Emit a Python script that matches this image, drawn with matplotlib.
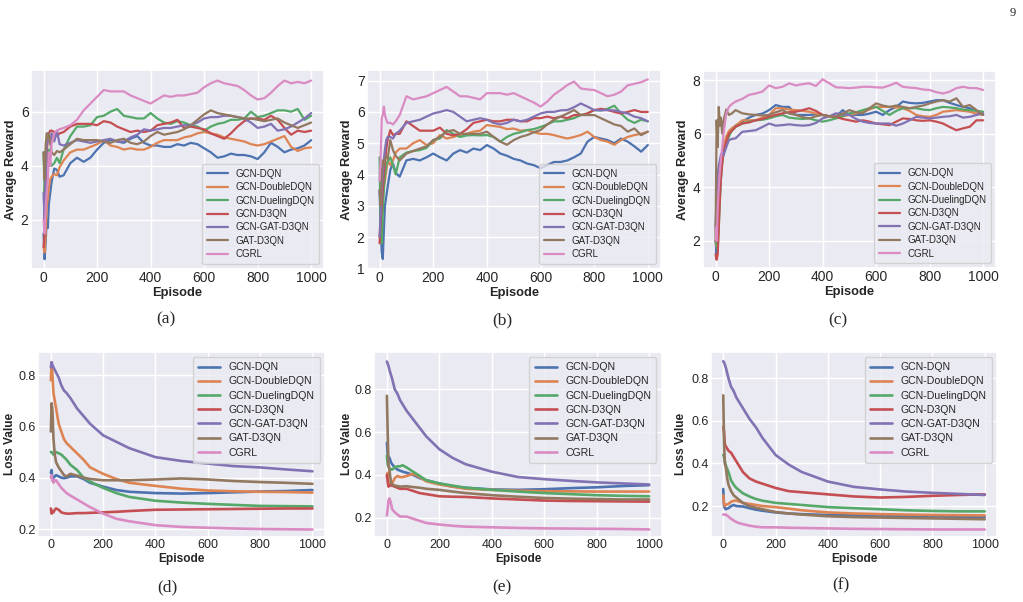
import matplotlib
matplotlib.use("Agg")
import matplotlib.pyplot as plt
import seaborn as sns

ep_r = [0, 4, 8, 12, 16, 20, 25, 30, 40, 50, 60, 75,
        100, 125, 150, 175, 200, 225, 250, 275, 300, 325, 350, 375, 400,
        425, 450, 475, 500, 525, 550, 575, 600, 625, 650, 675, 700, 725,
        750, 775, 800, 825, 850, 875, 900, 925, 950, 975, 1000]
ep_l = [0, 3, 6, 10, 15, 20, 30, 40, 50, 60, 75, 100, 125, 150, 200, 250,
        300, 400, 500, 600, 700, 800, 900, 1000]

methods = ["GCN-DQN", "GCN-DoubleDQN", "GCN-DuelingDQN", "GCN-D3QN",
           "GCN-GAT-D3QN", "GAT-D3QN", "CGRL"]

# ---- (a) average reward ----
a_dqn = [1.5, 0.55, 1.2, 2.0, 1.7, 2.6, 3.0, 3.4, 3.9, 3.85, 3.6, 3.65,
         4.1, 4.3, 4.15, 4.3, 4.6, 4.85, 4.95, 4.9, 4.85, 5.0, 5.1, 4.85, 4.75,
         4.75, 4.7, 4.7, 4.8, 4.75, 4.85, 4.8, 4.65, 4.5, 4.3, 4.35, 4.45, 4.4,
         4.4, 4.35, 4.25, 4.5, 4.85, 4.7, 4.5, 4.6, 4.65, 4.75, 4.95]
a_double = [1.0, 0.8, 1.5, 2.5, 2.8, 3.2, 3.5, 3.6, 3.7, 3.65, 3.95, 4.2,
            4.5, 4.6, 4.6, 4.7, 4.8, 4.95, 4.75, 4.7, 4.6, 4.65, 4.6, 4.6, 4.7,
            4.85, 4.95, 4.95, 4.95, 5.05, 5.1, 5.2, 5.25, 5.2, 5.15, 5.05, 5.0, 4.95,
            4.9, 4.8, 4.75, 4.8, 4.9, 5.0, 5.1, 4.7, 4.55, 4.65, 4.68]
a_dueling = [4.5, 3.0, 3.8, 4.5, 4.2, 4.6, 4.1, 4.0, 4.1, 4.3, 4.1, 4.6,
             5.1, 5.45, 5.45, 5.5, 5.8, 5.85, 6.0, 6.1, 5.85, 5.8, 5.75, 5.75, 5.95,
             5.75, 5.6, 5.55, 5.65, 5.6, 5.5, 5.45, 5.3, 5.45, 5.55, 5.6, 5.7, 5.7,
             5.75, 6.0, 5.8, 5.85, 5.95, 6.05, 6.05, 6.0, 6.1, 5.7, 5.85]
a_d3qn = [1.0, 1.5, 3.5, 4.5, 5.0, 5.2, 5.3, 5.3, 5.25, 5.1, 5.2, 5.25,
          5.45, 5.55, 5.55, 5.55, 5.5, 5.65, 5.6, 5.45, 5.35, 5.25, 5.3, 5.25, 5.3,
          5.5, 5.55, 5.6, 5.7, 5.4, 5.45, 5.4, 5.35, 5.2, 5.1, 5.0, 5.2, 5.45,
          5.65, 5.75, 5.75, 5.7, 5.85, 5.7, 5.4, 5.15, 5.3, 5.25, 5.3]
a_gcngat = [3.0, 2.0, 3.5, 4.8, 5.2, 5.0, 4.8, 5.2, 4.9, 5.3, 4.8, 4.75,
            4.85, 4.95, 4.9, 4.85, 4.9, 4.95, 5.0, 4.9, 4.9, 5.05, 5.15, 5.35, 5.3,
            5.35, 5.4, 5.4, 5.45, 5.5, 5.5, 5.6, 5.75, 5.8, 5.8, 5.85, 5.85, 5.8,
            5.75, 5.6, 5.4, 5.45, 5.55, 5.3, 5.35, 5.45, 5.6, 5.75, 5.95]
a_gat = [4.5, 3.5, 4.8, 5.2, 5.0, 5.2, 4.9, 4.5, 4.4, 4.55, 4.5, 4.6,
         4.8, 5.0, 4.95, 4.95, 4.95, 4.9, 4.85, 4.95, 5.0, 4.85, 4.8, 4.9, 5.1,
         5.25, 5.15, 5.2, 5.25, 5.35, 5.5, 5.7, 5.9, 6.05, 5.95, 5.9, 5.85, 5.8,
         5.75, 5.75, 5.7, 5.65, 5.7, 5.75, 5.6, 5.5, 5.4, 5.5, 5.6]
a_cgrl = [2.0, 1.5, 2.5, 3.0, 3.5, 4.5, 4.0, 4.8, 5.2, 5.3, 5.35, 5.4,
          5.5, 5.7, 6.05, 6.3, 6.55, 6.8, 6.75, 6.75, 6.75, 6.6, 6.5, 6.4, 6.3,
          6.45, 6.6, 6.55, 6.6, 6.6, 6.65, 6.7, 6.9, 7.05, 7.15, 7.05, 7.0, 6.95,
          6.8, 6.6, 6.45, 6.5, 6.7, 6.95, 7.15, 7.05, 7.1, 7.05, 7.15]

# ---- (b) average reward ----
b_dqn = [3.5, 2.3, 1.5, 1.3, 2.2, 3.0, 3.3, 3.6, 4.15, 4.35, 4.05, 3.93,
         4.45, 4.5, 4.45, 4.55, 4.67, 4.55, 4.45, 4.67, 4.78, 4.7, 4.83, 4.78, 4.94,
         4.83, 4.67, 4.6, 4.5, 4.45, 4.35, 4.3, 4.2, 4.3, 4.4, 4.4, 4.45, 4.55,
         4.67, 5.05, 5.2, 5.15, 5.1, 5.0, 5.15, 5.05, 4.9, 4.73, 4.94]
b_double = [2.0, 2.5, 3.0, 3.3, 3.6, 3.8, 4.1, 4.45, 4.3, 4.45, 4.7, 4.83,
            4.83, 5.0, 5.1, 4.94, 5.0, 5.26, 5.15, 5.2, 5.26, 5.3, 5.37, 5.4, 5.58,
            5.55, 5.52, 5.45, 5.47, 5.4, 5.42, 5.35, 5.3, 5.3, 5.26, 5.2, 5.15, 5.2,
            5.26, 5.37, 5.2, 5.1, 5.05, 4.95, 5.1, 5.2, 5.26, 5.3, 5.37]
b_dueling = [4.55, 2.0, 1.8, 2.8, 3.5, 4.0, 4.3, 4.4, 4.55, 4.3, 4.0, 4.55,
             4.7, 4.75, 4.78, 4.85, 5.1, 5.15, 5.42, 5.3, 5.2, 5.25, 5.26, 5.25, 5.26,
             5.2, 5.05, 5.2, 5.3, 5.35, 5.42, 5.45, 5.52, 5.6, 5.7, 5.7, 5.75, 5.8,
             5.9, 5.95, 6.06, 6.05, 6.1, 6.2, 5.95, 5.75, 5.65, 5.75, 5.7]
b_d3qn = [1.8, 2.5, 3.0, 3.5, 4.0, 4.4, 4.8, 5.1, 5.42, 5.26, 5.3, 5.3,
          5.7, 5.55, 5.4, 5.4, 5.4, 5.5, 5.3, 5.25, 5.3, 5.45, 5.65, 5.7, 5.75,
          5.7, 5.7, 5.75, 5.75, 5.7, 5.7, 5.8, 5.8, 5.85, 5.8, 5.85, 5.8, 5.9,
          5.9, 5.95, 6.06, 6.1, 6.06, 6.0, 5.95, 6.0, 6.06, 6.0, 6.0]
b_gcngat = [2.0, 2.8, 3.5, 4.0, 4.5, 4.8, 5.1, 5.2, 5.2, 5.15, 5.3, 5.4,
            5.65, 5.7, 5.75, 5.85, 5.95, 6.0, 6.06, 6.0, 5.85, 5.7, 5.75, 5.8, 5.75,
            5.65, 5.6, 5.65, 5.75, 5.7, 5.75, 5.85, 5.95, 6.0, 6.0, 6.05, 6.06, 6.15,
            6.27, 6.17, 6.06, 6.05, 6.06, 6.05, 6.0, 5.95, 5.85, 5.8, 5.7]
b_gat = [3.5, 3.0, 4.0, 4.45, 4.3, 4.5, 4.6, 4.5, 5.1, 4.78, 4.6, 4.45,
         4.67, 4.75, 4.83, 4.9, 5.1, 5.2, 5.37, 5.42, 5.3, 5.3, 5.3, 5.3, 5.37,
         5.2, 5.05, 4.95, 5.1, 5.2, 5.26, 5.35, 5.42, 5.6, 5.75, 5.85, 5.95, 6.06,
         5.9, 5.9, 5.9, 5.8, 5.7, 5.6, 5.55, 5.37, 5.47, 5.26, 5.37]
b_cgrl = [3.8, 4.5, 5.8, 5.9, 6.17, 5.9, 5.75, 5.65, 5.65, 5.6, 5.7, 5.9,
          6.5, 6.4, 6.45, 6.5, 6.6, 6.7, 6.8, 6.65, 6.5, 6.5, 6.45, 6.4, 6.6,
          6.6, 6.6, 6.55, 6.6, 6.5, 6.4, 6.3, 6.17, 6.33, 6.55, 6.7, 6.86, 6.97,
          6.75, 6.72, 6.7, 6.6, 6.5, 6.55, 6.65, 6.85, 6.9, 6.95, 7.04]

# ---- (c) average reward ----
c_dqn = [2.0, 1.5, 2.2, 3.5, 4.3, 4.8, 5.1, 5.4, 5.8, 6.0, 6.15, 6.3,
         6.45, 6.6, 6.7, 6.75, 6.88, 7.07, 7.0, 7.0, 6.7, 6.7, 6.7, 6.72, 6.7,
         6.65, 6.63, 6.88, 6.7, 6.7, 6.7, 6.75, 6.82, 6.7, 6.88, 7.0, 7.2, 7.15,
         7.13, 7.15, 7.2, 7.25, 7.25, 7.15, 7.07, 7.0, 6.95, 6.85, 6.7]
c_double = [2.0, 1.8, 2.5, 3.8, 4.5, 5.0, 5.3, 5.5, 5.9, 6.1, 6.2, 6.3,
            6.5, 6.5, 6.5, 6.6, 6.7, 6.95, 6.95, 6.9, 6.88, 6.85, 6.82, 6.75, 6.7,
            6.65, 6.63, 6.65, 6.7, 6.75, 6.82, 6.9, 7.0, 7.0, 7.0, 6.98, 6.95, 6.85,
            6.7, 6.65, 6.63, 6.7, 6.82, 6.85, 6.88, 6.85, 6.82, 6.75, 6.7]
c_dueling = [2.5, 1.8, 1.7, 2.5, 3.5, 4.3, 4.9, 5.3, 5.6, 5.9, 6.1, 6.26,
             6.38, 6.45, 6.5, 6.52, 6.57, 6.65, 6.7, 6.6, 6.57, 6.55, 6.57, 6.5, 6.45,
             6.5, 6.57, 6.65, 6.76, 6.8, 6.88, 6.95, 7.0, 6.85, 6.7, 6.85, 6.95, 6.95,
             6.95, 6.9, 6.88, 6.95, 7.0, 6.98, 6.95, 6.9, 6.88, 6.85, 6.82]
c_d3qn = [1.5, 1.3, 1.5, 2.5, 3.5, 4.3, 4.9, 5.3, 5.7, 6.0, 6.1, 6.26,
          6.38, 6.42, 6.5, 6.55, 6.63, 6.7, 6.76, 6.8, 6.82, 6.88, 6.95, 6.85, 6.7,
          6.65, 6.63, 6.55, 6.5, 6.45, 6.5, 6.45, 6.38, 6.35, 6.32, 6.45, 6.57, 6.55,
          6.5, 6.48, 6.5, 6.45, 6.38, 6.25, 6.13, 6.2, 6.26, 6.5, 6.5]
c_gcngat = [2.5, 3.5, 4.5, 4.8, 5.0, 5.2, 5.3, 5.2, 5.5, 5.76, 5.8, 5.83,
            6.07, 6.1, 6.13, 6.25, 6.38, 6.3, 6.32, 6.35, 6.32, 6.3, 6.32, 6.4, 6.57,
            6.65, 6.76, 6.72, 6.7, 6.55, 6.45, 6.4, 6.38, 6.38, 6.38, 6.3, 6.38, 6.5,
            6.63, 6.6, 6.57, 6.6, 6.63, 6.65, 6.7, 6.6, 6.63, 6.7, 6.76]
c_gat = [2.0, 6.5, 5.5, 7.0, 6.3, 6.6, 6.0, 6.5, 6.9, 6.7, 6.75, 6.88,
         6.76, 6.72, 6.7, 6.68, 6.7, 6.8, 6.88, 6.75, 6.7, 6.62, 6.57, 6.65, 6.7,
         6.65, 6.63, 6.75, 6.88, 6.8, 6.76, 6.95, 7.13, 7.05, 7.0, 7.05, 7.0, 6.95,
         7.0, 7.05, 7.13, 7.2, 7.25, 7.2, 7.32, 7.0, 7.07, 6.88, 6.7]
c_cgrl = [2.5, 2.0, 3.2, 4.0, 4.6, 5.0, 5.5, 6.0, 6.76, 7.0, 7.1, 7.2,
          7.3, 7.45, 7.5, 7.57, 7.8, 7.7, 7.75, 7.88, 7.8, 7.85, 7.88, 7.78, 8.03,
          7.88, 7.73, 7.72, 7.7, 7.72, 7.75, 7.75, 7.73, 7.72, 7.8, 7.9, 7.75, 7.72,
          7.7, 7.65, 7.63, 7.55, 7.5, 7.57, 7.7, 7.75, 7.7, 7.7, 7.63]

# ---- (d) loss ----
d_dqn = [0.42, 0.43, 0.39, 0.40, 0.405, 0.41, 0.405, 0.40, 0.398, 0.40, 0.405, 0.405,
         0.395, 0.38, 0.365, 0.352, 0.345, 0.34, 0.338, 0.34, 0.343, 0.346, 0.348, 0.352]
d_double = [0.78, 0.85, 0.80, 0.73, 0.70, 0.67, 0.61, 0.58, 0.55, 0.535, 0.52, 0.495,
            0.47, 0.44, 0.415, 0.395, 0.38, 0.368, 0.357, 0.35, 0.347, 0.345, 0.344, 0.342]
d_dueling = [0.50, 0.50, 0.495, 0.49, 0.495, 0.50, 0.495, 0.49, 0.48, 0.47, 0.45, 0.43,
             0.40, 0.385, 0.36, 0.34, 0.325, 0.31, 0.303, 0.298, 0.294, 0.29, 0.289, 0.288]
d_d3qn = [0.28, 0.26, 0.27, 0.265, 0.275, 0.28, 0.275, 0.265, 0.262, 0.26, 0.26, 0.262,
          0.262, 0.263, 0.265, 0.267, 0.27, 0.275, 0.276, 0.277, 0.278, 0.279, 0.28, 0.28]
d_gcngat = [0.83, 0.85, 0.84, 0.83, 0.82, 0.81, 0.79, 0.76, 0.74, 0.73, 0.71, 0.67,
            0.64, 0.61, 0.565, 0.54, 0.515, 0.48, 0.465, 0.455, 0.445, 0.44, 0.432, 0.425]
d_gat = [0.58, 0.69, 0.66, 0.55, 0.49, 0.46, 0.44, 0.425, 0.41, 0.405, 0.415, 0.408,
         0.40, 0.395, 0.39, 0.39, 0.39, 0.393, 0.397, 0.393, 0.387, 0.383, 0.38, 0.376]
d_cgrl = [0.40, 0.41, 0.39, 0.38, 0.39, 0.39, 0.375, 0.36, 0.35, 0.34, 0.33, 0.315,
          0.30, 0.285, 0.26, 0.24, 0.23, 0.215, 0.208, 0.205, 0.202, 0.20, 0.199, 0.198]

# ---- (e) loss ----
e_dqn = [0.55, 0.50, 0.47, 0.48, 0.46, 0.45, 0.435, 0.425, 0.42, 0.415, 0.41, 0.40,
         0.385, 0.375, 0.36, 0.345, 0.34, 0.332, 0.33, 0.333, 0.338, 0.342, 0.348, 0.352]
e_double = [0.39, 0.41, 0.35, 0.355, 0.36, 0.36, 0.385, 0.395, 0.39, 0.39, 0.395, 0.405,
            0.39, 0.37, 0.355, 0.345, 0.335, 0.33, 0.326, 0.324, 0.323, 0.322, 0.322, 0.322]
e_dueling = [0.49, 0.45, 0.44, 0.43, 0.425, 0.425, 0.435, 0.44, 0.44, 0.445, 0.435, 0.415,
             0.395, 0.375, 0.36, 0.35, 0.34, 0.33, 0.322, 0.315, 0.31, 0.305, 0.302, 0.30]
e_d3qn = [0.40, 0.37, 0.345, 0.35, 0.35, 0.35, 0.345, 0.34, 0.335, 0.335, 0.335, 0.325,
          0.315, 0.31, 0.30, 0.298, 0.297, 0.29, 0.285, 0.28, 0.278, 0.277, 0.276, 0.275]
e_gcngat = [0.93, 0.92, 0.91, 0.89, 0.87, 0.85, 0.80, 0.78, 0.75, 0.73, 0.70, 0.66,
            0.62, 0.58, 0.52, 0.48, 0.45, 0.415, 0.39, 0.38, 0.372, 0.365, 0.36, 0.355]
e_gat = [0.77, 0.60, 0.45, 0.42, 0.37, 0.355, 0.35, 0.348, 0.345, 0.346, 0.347, 0.343,
         0.34, 0.335, 0.33, 0.322, 0.315, 0.305, 0.298, 0.292, 0.289, 0.287, 0.285, 0.285]
e_cgrl = [0.21, 0.24, 0.28, 0.29, 0.27, 0.24, 0.225, 0.215, 0.205, 0.205, 0.205, 0.195,
          0.185, 0.175, 0.168, 0.162, 0.158, 0.155, 0.152, 0.15, 0.149, 0.148, 0.147, 0.145]

# ---- (f) loss ----
f_dqn = [0.28, 0.20, 0.19, 0.185, 0.188, 0.19, 0.20, 0.205, 0.20, 0.199, 0.198, 0.19,
         0.183, 0.178, 0.17, 0.165, 0.162, 0.158, 0.156, 0.154, 0.153, 0.151, 0.15, 0.15]
f_double = [0.25, 0.21, 0.20, 0.205, 0.208, 0.21, 0.22, 0.225, 0.225, 0.222, 0.215, 0.21,
            0.205, 0.20, 0.195, 0.188, 0.18, 0.17, 0.165, 0.162, 0.16, 0.158, 0.157, 0.156]
f_dueling = [0.44, 0.43, 0.41, 0.39, 0.375, 0.36, 0.32, 0.30, 0.285, 0.275, 0.26, 0.245,
             0.233, 0.225, 0.215, 0.21, 0.205, 0.195, 0.19, 0.185, 0.18, 0.177, 0.175, 0.175]
f_d3qn = [0.57, 0.55, 0.49, 0.48, 0.47, 0.46, 0.45, 0.43, 0.41, 0.39, 0.36, 0.33,
          0.315, 0.305, 0.285, 0.27, 0.265, 0.255, 0.245, 0.24, 0.243, 0.248, 0.252, 0.255]
f_gcngat = [0.88, 0.875, 0.865, 0.85, 0.825, 0.80, 0.76, 0.74, 0.71, 0.69, 0.66, 0.61,
            0.57, 0.52, 0.44, 0.395, 0.36, 0.315, 0.29, 0.278, 0.268, 0.262, 0.257, 0.252]
f_gat = [0.72, 0.50, 0.40, 0.38, 0.33, 0.30, 0.27, 0.25, 0.24, 0.23, 0.215, 0.20,
         0.192, 0.185, 0.172, 0.165, 0.16, 0.152, 0.148, 0.146, 0.144, 0.142, 0.14, 0.138]
f_cgrl = [0.16, 0.16, 0.16, 0.16, 0.155, 0.15, 0.14, 0.132, 0.125, 0.12, 0.115, 0.108,
          0.103, 0.10, 0.10, 0.098, 0.097, 0.095, 0.093, 0.092, 0.091, 0.09, 0.09, 0.09]


sns.set_theme(style="darkgrid")
plt.rcParams["font.family"] = ["Liberation Sans", "DejaVu Sans"]
colors = sns.color_palette("deep")[:7]

W, H = 1023, 602
fig = plt.figure(figsize=(W / 100, H / 100), dpi=100, facecolor="white")

top_fs = dict(tick=10.0, label=9.3, legend=7.0, spacing=0.35)
bot_fs = dict(tick=9.0, label=8.6, legend=7.6, spacing=0.4)


def panel(box, xs, series, ylim, yticks, ylabel, loc, lw, fs, lab_xy, tag, tagpos):
    # box = left, right, top, bottom in pixels of the page
    l, r, t, b = box
    ax = fig.add_axes([l / W, 1 - b / H, (r - l) / W, (b - t) / H])
    for s, c, name in zip(series, colors, methods):
        ax.plot(xs, s, color=c, lw=lw, label=name)
    ax.set_xlim(-48, 1048)
    ax.set_ylim(*ylim)
    ax.set_xticks([0, 200, 400, 600, 800, 1000])
    ax.set_yticks(yticks)
    ax.tick_params(labelsize=fs["tick"], pad=1.5, length=0)
    ax.set_xlabel("Episode", fontsize=fs["label"], fontweight="bold")
    ax.set_ylabel(ylabel, fontsize=fs["label"], fontweight="bold")
    ax.yaxis.set_label_coords(lab_xy[0], 0.5)
    ax.xaxis.set_label_coords(0.5, lab_xy[1])
    ax.legend(loc=loc, fontsize=fs["legend"], labelspacing=fs["spacing"],
              handlelength=2.1, borderpad=0.5)
    fig.text(tagpos[0] / W, 1 - tagpos[1] / H, tag, ha="center", va="center",
             family="Liberation Serif", fontsize=12.5)
    return ax


panel((30.7, 324, 70, 269), ep_r,
      [a_dqn, a_double, a_dueling, a_d3qn, a_gcngat, a_gat, a_cgrl],
      (0.19, 7.54), [2, 4, 6], "Average Reward", "lower right", 1.6,
      top_fs, (-0.048, -0.092), "(a)", (166, 319))
panel((366.7, 660.7, 70, 269), ep_r,
      [b_dqn, b_double, b_dueling, b_d3qn, b_gcngat, b_gat, b_cgrl],
      (0.98, 7.34), [1, 2, 3, 4, 5, 6, 7], "Average Reward", "lower right", 1.6,
      top_fs, (-0.048, -0.092), "(b)", (502, 320))
panel((702.7, 996, 70.7, 268.3), ep_r,
      [c_dqn, c_double, c_dueling, c_d3qn, c_gcngat, c_gat, c_cgrl],
      (0.98, 8.35), [2, 4, 6, 8], "Average Reward", "lower right", 1.6,
      top_fs, (-0.046, -0.092), "(c)", (838, 320))
panel((38.3, 325, 351.7, 536.7), ep_l,
      [d_dqn, d_double, d_dueling, d_d3qn, d_gcngat, d_gat, d_cgrl],
      (0.17, 0.891), [0.2, 0.4, 0.6, 0.8], "Loss Value", "upper right", 1.9,
      bot_fs, (-0.078, -0.09), "(d)", (167, 587))
panel((374.3, 661.7, 351.7, 536.7), ep_l,
      [e_dqn, e_double, e_dueling, e_d3qn, e_gcngat, e_gat, e_cgrl],
      (0.111, 0.976), [0.2, 0.4, 0.6, 0.8], "Loss Value", "upper right", 1.9,
      bot_fs, (-0.075, -0.09), "(e)", (502, 587))
panel((710.7, 997.3, 351.7, 536.7), ep_l,
      [f_dqn, f_double, f_dueling, f_d3qn, f_gcngat, f_gat, f_cgrl],
      (0.056, 0.925), [0.2, 0.4, 0.6, 0.8], "Loss Value", "upper right", 1.9,
      bot_fs, (-0.082, -0.09), "(f)", (841, 585))

fig.text(1013 / W, 1 - 13 / H, "9", ha="center", va="center",
         family="Liberation Serif", fontsize=9)

fig.savefig("out.png", dpi=100, facecolor="white")
